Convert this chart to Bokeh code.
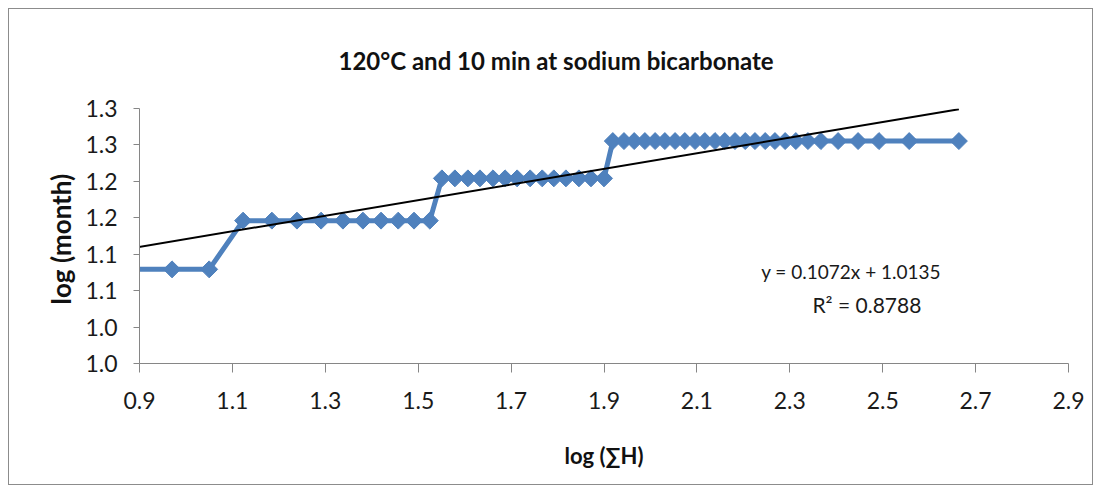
import math
from bokeh.plotting import figure
from bokeh.models import Range1d, FixedTicker, Label, PrintfTickFormatter
from bokeh.embed import file_html
from bokeh.resources import INLINE

# ---- data ----
title_text = "120°C and 10 min at sodium bicarbonate"
x_label = "log (∑H)"
y_label = "log  (month)"

x_level1 = [0.875, 0.970, 1.050]
x_level2 = [1.123, 1.185, 1.239, 1.291, 1.338, 1.381, 1.420, 1.457, 1.491, 1.525]
x_level3 = [1.551, 1.579, 1.607, 1.633, 1.661, 1.687, 1.713, 1.741, 1.767, 1.792,
            1.818, 1.846, 1.872, 1.900]
x_level4 = [1.919, 1.943, 1.965, 1.988, 2.010, 2.031, 2.053, 2.074, 2.096, 2.117,
            2.139, 2.160, 2.182, 2.204, 2.225, 2.247, 2.268, 2.290, 2.313, 2.339,
            2.367, 2.404, 2.447, 2.492, 2.557, 2.664]
y_levels = [1.0792, 1.1461, 1.2041, 1.2553]

slope = 0.1072
intercept = 1.0135
eq_text = "y = 0.1072x + 1.0135"
r2_text = "R² = 0.8788"

x_ticks = [0.9, 1.1, 1.3, 1.5, 1.7, 1.9, 2.1, 2.3, 2.5, 2.7, 2.9]
y_ticks = [0.95, 1.0, 1.05, 1.1, 1.15, 1.2, 1.25, 1.3]
y_tick_labels = ["1.0", "1.0", "1.1", "1.1", "1.2", "1.2", "1.3", "1.3"]

# ---- build series ----
xs, ys = [], []
for lvl_x, lvl_y in zip([x_level1, x_level2, x_level3, x_level4], y_levels):
    xs += lvl_x
    ys += [lvl_y] * len(lvl_x)

fit_x = [min(xs), max(xs)]
fit_y = [slope * v + intercept for v in fit_x]

FONT = "Lato"
BLUE = "#4F81BD"
AXIS_GRAY = "#868686"

p = figure(width=1085, height=477, output_backend="svg", toolbar_location=None,
           x_range=Range1d(0.9, 2.9), y_range=Range1d(0.95, 1.30),
           min_border_left=130, min_border_right=26, min_border_top=99,
           min_border_bottom=123)
p.margin = (8, 8, 8, 8)
p.styles = {"border": "1px solid #8c8c8c"}
p.outline_line_color = None
p.xgrid.visible = False
p.ygrid.visible = False

p.title.text = title_text
p.title.align = "left"
p.title.offset = 199
p.title.standoff = 67
p.title.text_font = FONT
p.title.text_font_style = "bold"
p.title.text_font_size = "24px"
p.title.text_color = "#111111"

p.line(xs, ys, line_color=BLUE, line_width=5)
p.scatter(xs, ys, marker="square", angle=math.pi / 4, size=12,
          fill_color=BLUE, line_color=BLUE)
p.line(fit_x, fit_y, line_color="black", line_width=2)

for ax in (p.xaxis[0], p.yaxis[0]):
    ax.axis_line_color = AXIS_GRAY
    ax.major_tick_line_color = AXIS_GRAY
    ax.minor_tick_line_color = None
    ax.major_tick_in = 0
    ax.major_label_text_font = FONT
    ax.major_label_text_font_size = "23px"
    ax.major_label_text_color = "#1a1a1a"
    ax.axis_label_text_font = FONT
    ax.axis_label_text_font_style = "bold"
    ax.axis_label_text_color = "#111111"

p.xaxis.ticker = FixedTicker(ticks=x_ticks)
p.xaxis.formatter = PrintfTickFormatter(format="%.1f")
p.xaxis.major_tick_out = 9
p.xaxis.major_label_standoff = 19
p.xaxis.axis_label = x_label
p.xaxis.axis_label_text_font_size = "22px"
p.xaxis.axis_label_standoff = 30

p.yaxis.ticker = FixedTicker(ticks=y_ticks)
p.yaxis.major_label_overrides = {t: lab for t, lab in zip(y_ticks, y_tick_labels)}
p.yaxis.major_tick_out = 6
p.yaxis.major_label_standoff = 16
p.yaxis.axis_label = y_label
p.yaxis.axis_label_text_font_size = "26px"
p.yaxis.axis_label_standoff = 5

p.add_layout(Label(x=2.432, y=1.0760, text=eq_text, text_align="center",
                   text_baseline="middle", text_font=FONT, text_font_size="19px",
                   text_color="#1a1a1a"))
p.add_layout(Label(x=2.466, y=1.0310, text=r2_text, text_align="center",
                   text_baseline="middle", text_font=FONT, text_font_size="21px",
                   text_color="#1a1a1a"))

open("out.html", "w").write(file_html(p, INLINE))
